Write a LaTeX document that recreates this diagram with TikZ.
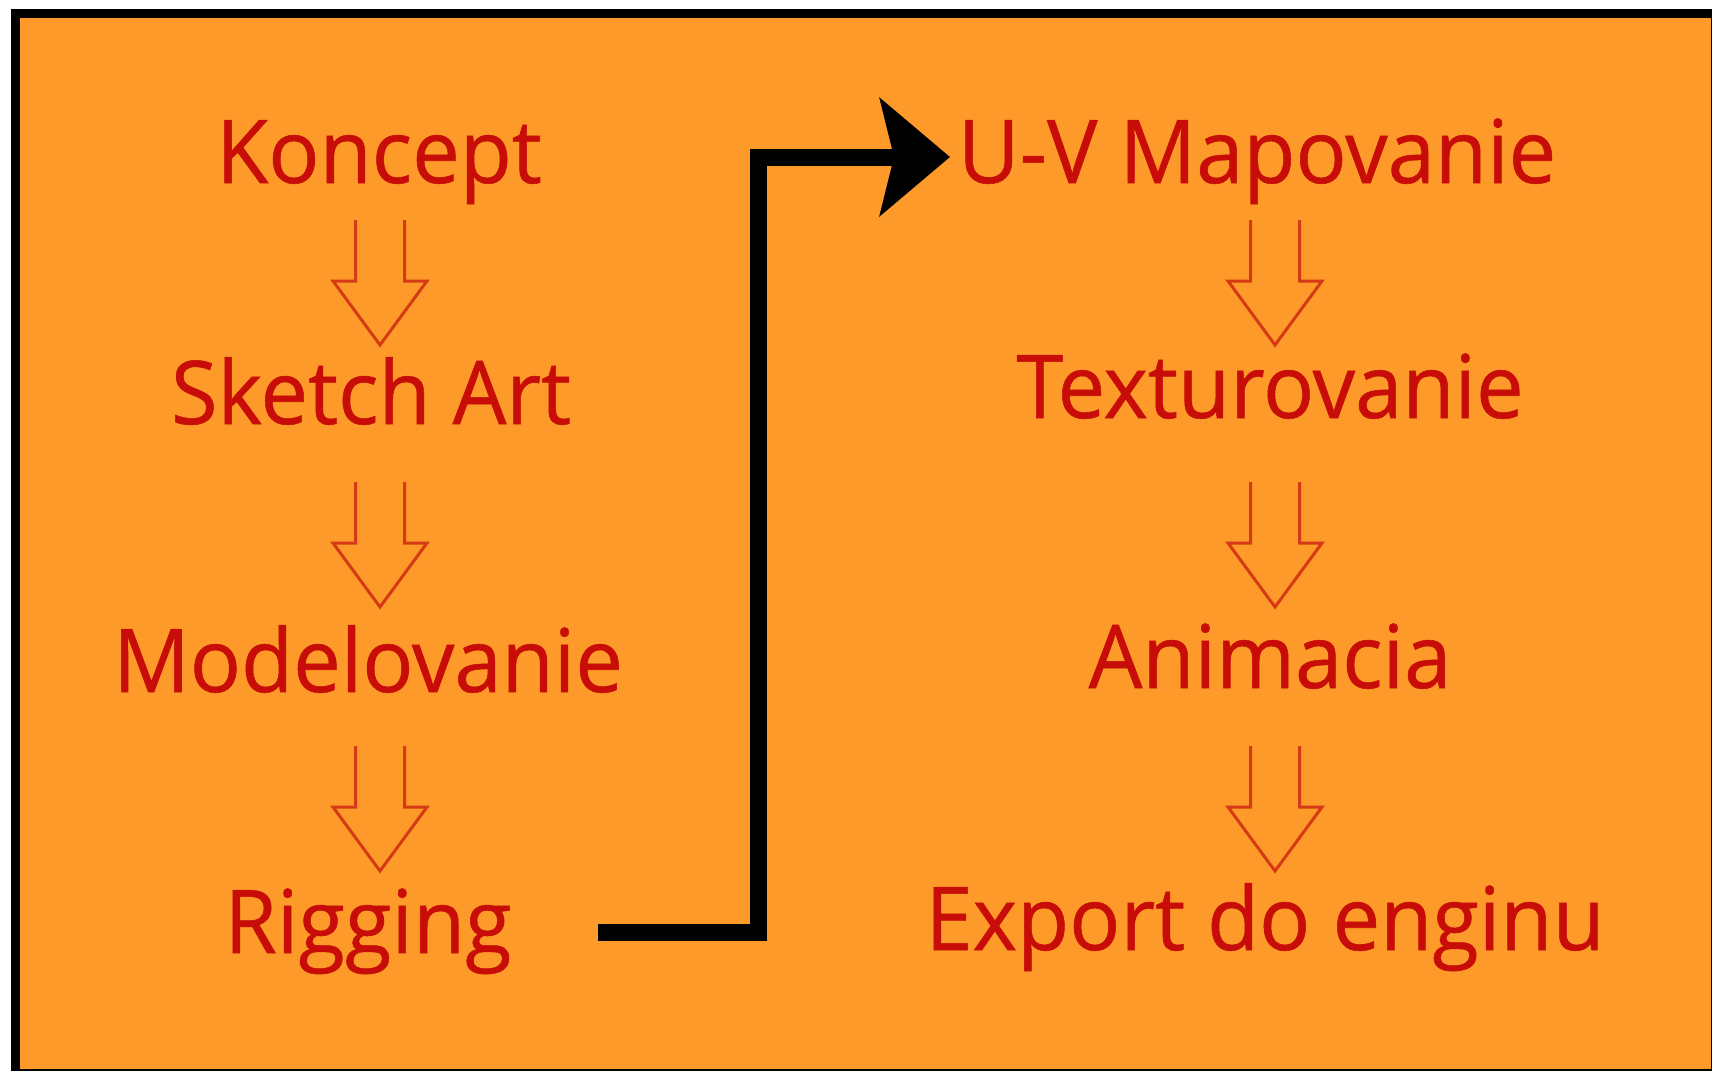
\documentclass[tikz,border=0pt]{standalone}
\usepackage{fontspec}
\setmainfont[FakeStretch=0.965, FakeBold=0.6]{Open Sans}
\usetikzlibrary{arrows.meta}
\definecolor{panelorange}{HTML}{FE9A2A}
\definecolor{steptext}{HTML}{C80C08}
\definecolor{arrowred}{HTML}{D63A14}
\tikzset{
  steplabel/.style={anchor=base, inner sep=0pt, text=steptext,
    font=\fontsize{88}{90}\selectfont},
  arrowline/.style={draw=arrowred, line width=3pt, line join=miter},
  hollowdown/.pic={
    \draw[arrowline] (-24.5,0) -- (-24.5,61) -- (-47,61) -- (0,125)
      -- (47,61) -- (24.5,61) -- (24.5,0);
  },
  flowline/.style={draw=black, line width=17pt,
    -{Stealth[length=70pt, width=117pt, inset=14pt]}},
}
\begin{document}
\begin{tikzpicture}[x=1pt, y=-1pt]
  \useasboundingbox (0,0) rectangle (1712,1071);
  % frame and panel
  \fill[white] (0,0) rectangle (1712,1071);
  \fill[black] (11,9) rectangle (1712,1071);
  \fill[panelorange] (20,18) rectangle (1711,1069);

  % left column
  \node[steplabel] (koncept) at (379,183) {Koncept};
  \node[steplabel] (sketch) at (371,424) {Sketch Art};
  \node[steplabel] (model) at (368,692) {Modelovanie};
  \node[steplabel] (rigging) at (368,953) {Rigging};

  % right column
  \node[steplabel] (uv) at (1257,183) {U-V Mapovanie};
  \node[steplabel] (textur) at (1270,418) {Texturovanie};
  \node[steplabel] (anim) at (1270,688) {Animacia};
  \node[steplabel] (export) at (1265,950) {Export do enginu};

  % hollow step arrows
  \pic at (380,220) {hollowdown};
  \pic at (380,482) {hollowdown};
  \pic at (380,746) {hollowdown};
  \pic at (1275,220) {hollowdown};
  \pic at (1275,482) {hollowdown};
  \pic at (1275,746) {hollowdown};

  % connector from the left column to the right column
  \coordinate (linkstart) at (598,932);
  \coordinate (linkend) at (950,157);
  \draw[flowline] (linkstart) -| (758,157) -- (linkend);
\end{tikzpicture}
\end{document}
